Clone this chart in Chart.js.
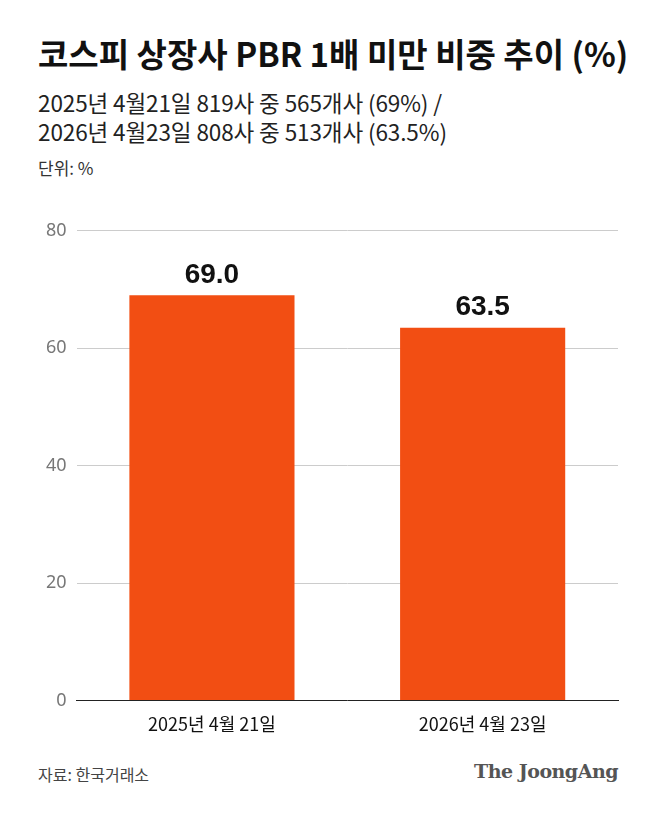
<!DOCTYPE html>
<html><head><meta charset="utf-8">
<script src="https://cdn.jsdelivr.net/npm/chart.js@4"></script>
<style>
body{margin:0;background:#fff;font-family:"Noto Sans CJK KR","Noto Sans",sans-serif;color:#111;}
#wrap{position:relative;width:658px;height:816px;}
.t{position:absolute;left:38px;white-space:nowrap;}
#title{top:29px;font-size:33px;font-weight:700;letter-spacing:0px;}
.sub{font-size:22.5px;color:#222;letter-spacing:-0.1px;}
#cw{position:absolute;left:0;top:210px;width:658px;height:530px;}
</style></head><body>
<div id="wrap">
<div id="title" class="t">코스피 상장사 PBR 1배 미만 비중 추이 (%)</div>
<div class="t sub" style="top:86px">2025년 4월21일 819사 중 565개사 (69%) /</div>
<div class="t sub" style="top:115px">2026년 4월23일 808사 중 513개사 (63.5%)</div>
<div class="t" style="top:155px;font-size:17px;color:#333">단위: %</div>
<div id="cw"><canvas id="c"></canvas></div>
<div class="t" style="top:762px;font-size:16px;color:#444">자료: 한국거래소</div>
<div style="position:absolute;right:40px;top:760px;font-family:'DejaVu Serif','Liberation Serif',serif;font-weight:700;font-size:19px;color:#555;letter-spacing:-0.5px">The JoongAng</div>
</div>
<script>
const categories=["2025년 4월 21일","2026년 4월 23일"];
const values=[69.0,63.5];
const yTicks=[0,20,40,60,80];
const labelPlugin={id:'lbl',afterDatasetsDraw(ch){const ctx=ch.ctx;const m=ch.getDatasetMeta(0);ctx.save();ctx.font='bold 28px "Liberation Sans","Noto Sans",sans-serif';ctx.fillStyle='#111';ctx.textAlign='center';ctx.textBaseline='bottom';m.data.forEach((b,i)=>ctx.fillText(values[i].toFixed(1),b.x,b.y-6));ctx.restore();}};
new Chart(document.getElementById('c'),{type:'bar',
data:{labels:categories,datasets:[{data:values,backgroundColor:'#f24e13',barPercentage:0.61,categoryPercentage:1}]},
options:{responsive:true,maintainAspectRatio:false,animation:false,
layout:{padding:{left:36,right:40,top:10,bottom:0}},
plugins:{legend:{display:false},tooltip:{enabled:false}},
scales:{y:{min:0,max:80,afterBuildTicks(a){a.ticks=yTicks.map(v=>({value:v}));},
ticks:{color:'#777',font:{size:18,family:'"Noto Sans",sans-serif'},padding:10},
grid:{color:'#cccccc',drawTicks:false},border:{display:false}},
x:{ticks:{color:'#111',font:{size:18,family:'"Noto Sans CJK KR",sans-serif'},padding:5},
grid:{display:false},border:{color:'#222',width:1}}}},
plugins:[labelPlugin]});
</script></body></html>
